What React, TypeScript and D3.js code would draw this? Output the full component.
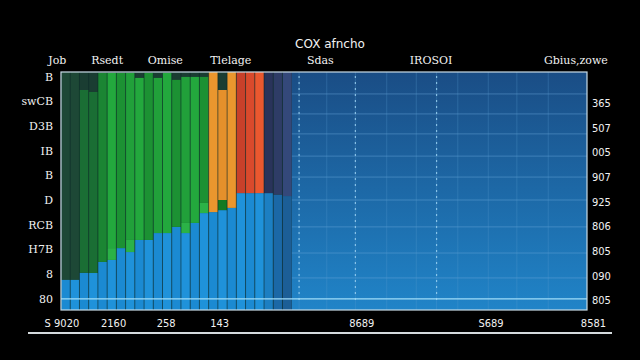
import React from 'react';
import * as d3 from 'd3';

// stacked columns (left part), values in plot units
const blue = [12.2, 12.2, 15.1, 15.0, 19.5, 20.3, 25.1, 23.5, 28.4, 28.4, 31.2, 31.2, 33.7, 31.2, 35.3, 39.3, 39.7, 40.5, 41.4, 47.4, 47.4, 47.4, 47.4, 46.8, 46.2];
const lightGreen = [0, 0, 0, 0, 0, 4.8, 0, 4.9, 0, 0, 0, 0, 0, 4.1, 0, 4.1, 0, 4.1, 0, 0, 0, 0, 0, 0, 0];
const green = [0, 0, 74.1, 73.4, 76.6, 71.0, 71.0, 67.7, 65.7, 67.7, 62.9, 64.9, 59.6, 59.2, 59.2, 51.1, 0, 0, 0, 0, 0, 0, 0, 0, 0];
const orange = [0, 0, 0, 0, 0, 0, 0, 0, 0, 0, 0, 0, 0, 0, 0, 0, 56.8, 44.6, 55.1, 0, 0, 0, 0, 0, 0];
const red = [0, 0, 0, 0, 0, 0, 0, 0, 0, 0, 0, 0, 0, 0, 0, 0, 0, 0, 0, 49.1, 49.1, 49.1, 0, 0, 0];
const navy = [0, 0, 0, 0, 0, 0, 0, 0, 0, 0, 0, 0, 0, 0, 0, 0, 0, 0, 0, 0, 0, 0, 49.1, 49.7, 50.3];

// right panel
const panelFrom = 25;
const panelGrid = [25.8, 28.8, 31.9, 35.3, 38.5, 40.7, 43.0, 46.3, 49.4, 52.8];
const panelDotted = [25.8, 31.9, 40.7];
const panelRows = [87.6, 79.5, 71.4, 62.4, 53.9, 44.6, 33.7, 23.1, 13.0];

// axes
const leftTicks = [94.5, 84.5, 74.5, 64.5, 54.5, 44.5, 34.5, 24.5, 14.5, 4.5];
const leftLabels = ['B', 'swCB', 'D3B', 'IB', 'B', 'D', 'RCB', 'H7B', '8', '80'];
const rightTicks = [83.8, 73.8, 63.8, 53.8, 43.8, 33.8, 23.8, 13.8, 3.8];
const rightLabels = ['365', '507', '005', '907', '925', '806', '805', '090', '805'];
const topTicks = [-0.4, 5.0, 11.3, 18.4, 28.1, 40.1, 55.8];
const topLabels = ['Job', 'Rsedt', 'Omise', 'Tlelage', 'Sdas', 'IROSOI', 'Gbius,zowe'];
const bottomTicks = [0.1, 5.7, 11.4, 17.2, 32.6, 46.6, 57.7];
const bottomLabels = ['S 9020', '2160', '258', '143', '8689', 'S689', '8581'];
const title = 'COX afncho';

const keys = ['blue', 'lightGreen', 'green', 'orange', 'red', 'navy'];

export default function App() {
  const W = 640;
  const H = 360;
  const margin = { top: 72, right: 53, bottom: 50, left: 61 };
  const x = d3.scaleLinear().domain([0, 57]).range([margin.left, W - margin.right]);
  const y = d3.scaleLinear().domain([0, 96.5]).range([H - margin.bottom, margin.top]);

  const rows = blue.map((b, i) => ({
    i,
    blue: b,
    lightGreen: lightGreen[i],
    green: green[i],
    orange: orange[i],
    red: red[i],
    navy: navy[i],
  }));
  const series = d3.stack<any>().keys(keys)(rows);

  const greens = ['#1c9133', '#21a03a', '#23a83d'];
  const reds = ['#c8402a', '#d94a2c', '#ea582f'];
  const navys = ['#29335a', '#2e3c66', '#34487a'];
  const fillFor = (key: string, i: number) => {
    if (key === 'blue') return i < 22 ? (i % 2 ? '#1f92da' : '#1b8ad2') : ['#1c7fc2', '#1b68a6', '#1c5e96'][i - 22];
    if (key === 'lightGreen') return i === 17 ? '#137a22' : '#2bb247';
    if (key === 'green') return i === 2 || i === 3 ? '#1a6e34' : i === 4 ? '#1b8533' : greens[i % 3];
    if (key === 'orange') return i === 17 ? '#e5902b' : '#ea962e';
    if (key === 'red') return reds[i - 19];
    return navys[i - 22];
  };

  const x0 = x.range()[0];
  const x1 = x.range()[1];
  const yTop = y.range()[1];
  const yBot = y.range()[0];

  return (
    <svg width={W} height={H} style={{ position: 'fixed', left: 0, top: 0, background: '#000' }}>
      <defs>
        <linearGradient id="panel" x1="0" y1="0" x2="0" y2="1">
          <stop offset="0%" stopColor="#1a4d85" />
          <stop offset="100%" stopColor="#2084c8" />
        </linearGradient>
      </defs>
      <rect width={W} height={H} fill="#000" />

      {/* left background */}
      <rect x={x0} y={yTop} width={x(panelFrom) - x0} height={yBot - yTop} fill="#1a3d32" />
      <rect x={x(0)} y={yTop} width={x(2) - x(0)} height={yBot - yTop} fill="#1d4836" />

      {/* right panel */}
      <rect x={x(panelFrom)} y={yTop} width={x1 - x(panelFrom)} height={yBot - yTop} fill="url(#panel)" />
      {panelRows.map((t, k) => (
        <line key={'g' + k} x1={x(panelFrom)} x2={x1} y1={y(t)} y2={y(t)} stroke="#6aa8dc" strokeOpacity={0.45} />
      ))}
      {panelGrid.map((g, k) => (
        <line key={'v' + k} x1={x(g)} x2={x(g)} y1={yTop} y2={yBot} stroke="#5a9ad0" strokeOpacity={0.3} />
      ))}
      {panelDotted.map((g, k) => (
        <line key={'d' + k} x1={x(g)} x2={x(g)} y1={yTop + 4} y2={yBot - 6} stroke="#9fd6f5" strokeWidth={1.2} strokeDasharray="2 4" strokeOpacity={0.8} />
      ))}

      {/* stacked columns */}
      {series.map(s =>
        s.map((d, i) =>
          d[1] - d[0] > 0 ? (
            <rect
              key={s.key + i}
              x={x(i)}
              y={y(d[1])}
              width={x(i + 1) - x(i)}
              height={y(d[0]) - y(d[1])}
              fill={fillFor(s.key, i)}
            />
          ) : null
        )
      )}
      {blue.map((_, i) => (
        <line key={'s' + i} x1={x(i)} x2={x(i)} y1={yTop} y2={yBot} stroke="#0b2626" strokeOpacity={0.7} strokeWidth={0.8} />
      ))}

      {/* baseline and frame */}
      <line x1={x0} x2={x1} y1={y(4.5)} y2={y(4.5)} stroke="#9fdcf8" strokeWidth={1.4} />
      <rect x={x0} y={yTop} width={x1 - x0} height={yBot - yTop} fill="none" stroke="#c9dde8" strokeWidth={1.2} />

      {/* left axis */}
      {leftTicks.map((t, k) => (
        <text key={'l' + k} x={x0 - 8} y={y(t)} dy="0.35em" textAnchor="end" fill="#f2f2f2"
          style={{ font: '11px "DejaVu Serif", serif' }}>{leftLabels[k]}</text>
      ))}
      {/* right axis */}
      {rightTicks.map((t, k) => (
        <text key={'r' + k} x={x1 + 5} y={y(t)} dy="0.35em" textAnchor="start" fill="#f2f2f2"
          style={{ font: '11px "DejaVu Sans Condensed", "DejaVu Sans", sans-serif' }}>{rightLabels[k]}</text>
      ))}
      {/* top labels */}
      {topTicks.map((t, k) => (
        <text key={'t' + k} x={x(t)} y={60} dy="0.35em" textAnchor="middle" fill="#f2f2f2"
          style={{ font: '11px "DejaVu Serif", serif' }}>{topLabels[k]}</text>
      ))}
      {/* bottom labels */}
      {bottomTicks.map((t, k) => (
        <text key={'b' + k} x={x(t)} y={323} dy="0.35em" textAnchor="middle" fill="#f2f2f2"
          style={{ font: '11px "DejaVu Sans Condensed", "DejaVu Sans", sans-serif' }}>{bottomLabels[k]}</text>
      ))}
      <text x={330} y={44} dy="0.35em" textAnchor="middle" fill="#f2f2f2"
        style={{ font: '12px "DejaVu Sans", sans-serif' }}>{title}</text>

      <line x1={28} x2={612} y1={333} y2={333} stroke="#d4dadd" strokeWidth={2} />
    </svg>
  );
}
